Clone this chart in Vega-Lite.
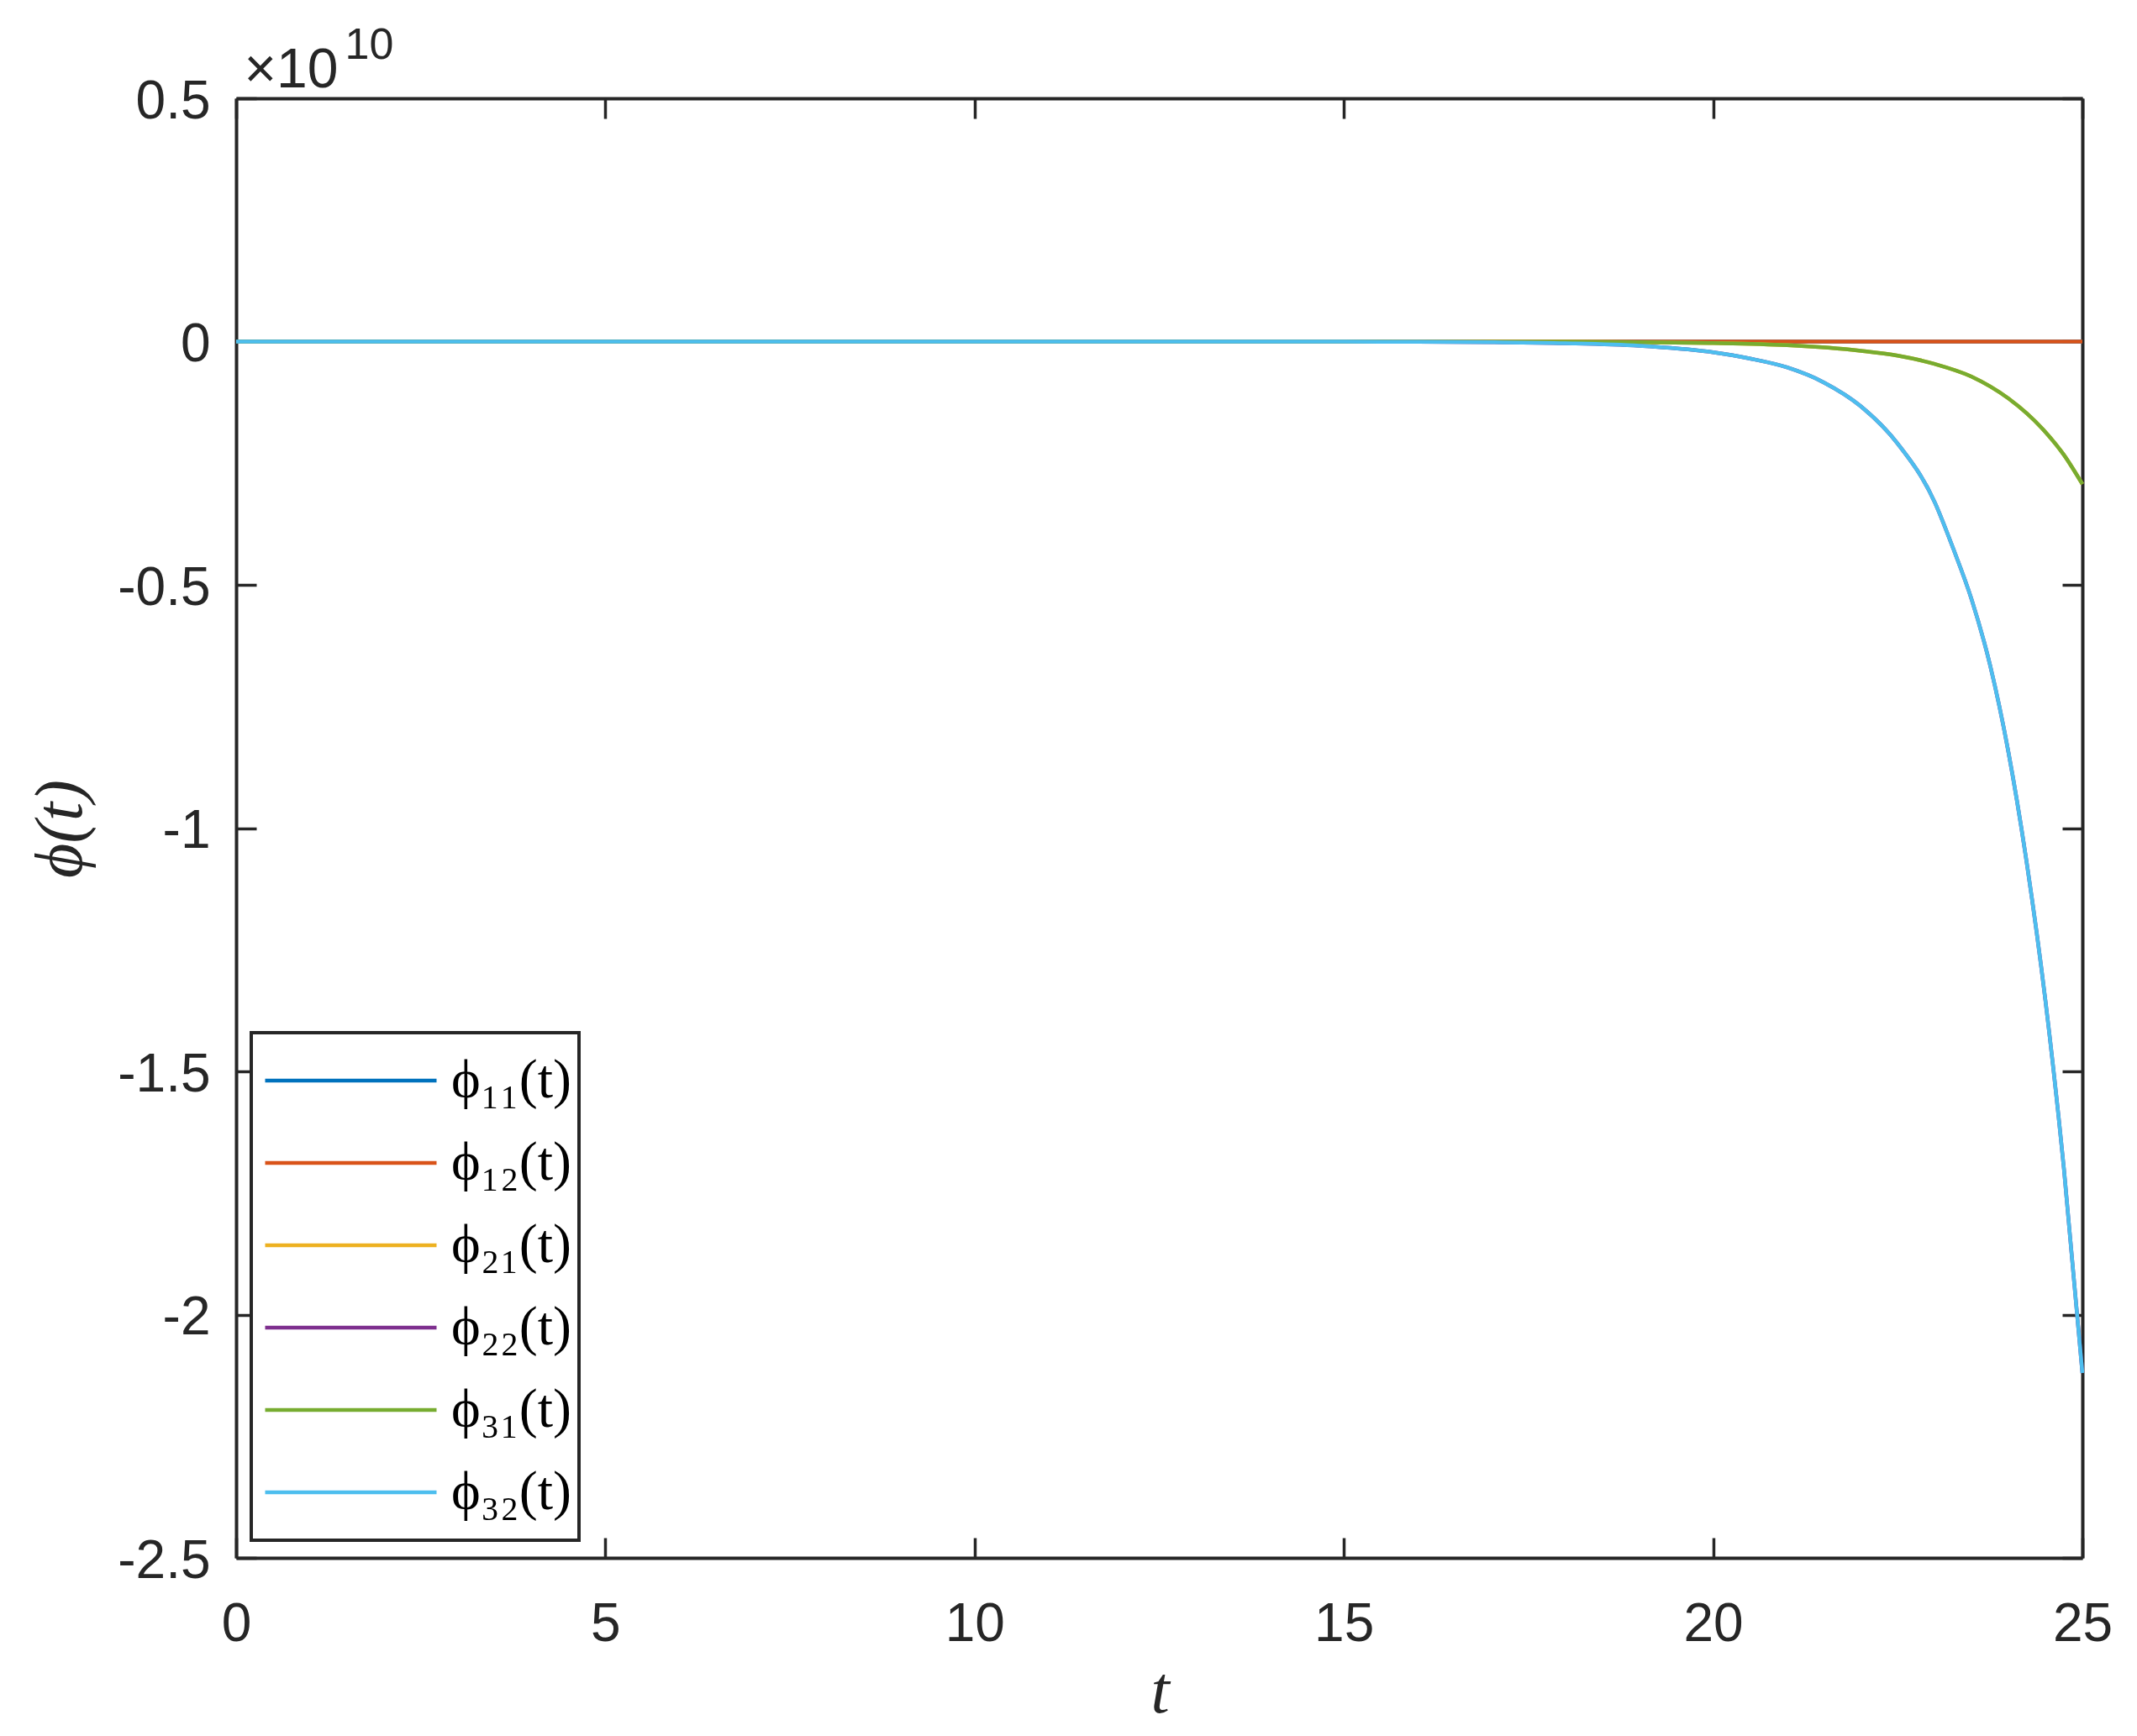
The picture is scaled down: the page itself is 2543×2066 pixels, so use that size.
{
  "$schema": "https://vega.github.io/schema/vega-lite/v6.json",
  "width": 2197,
  "height": 1737,
  "autosize": {"type": "none"},
  "padding": {"left": 281, "top": 117, "right": 65, "bottom": 212},
  "background": "white",
  "data": {
    "values": [
      {"series": "ϕ₁₁(t)", "t": 0, "phi": 0},
      {"series": "ϕ₁₁(t)", "t": 5, "phi": 0},
      {"series": "ϕ₁₁(t)", "t": 10, "phi": 0},
      {"series": "ϕ₁₁(t)", "t": 15, "phi": 0},
      {"series": "ϕ₁₁(t)", "t": 20, "phi": 0},
      {"series": "ϕ₁₁(t)", "t": 25, "phi": 0},
      {"series": "ϕ₁₂(t)", "t": 0, "phi": 0},
      {"series": "ϕ₁₂(t)", "t": 5, "phi": 0},
      {"series": "ϕ₁₂(t)", "t": 10, "phi": 0},
      {"series": "ϕ₁₂(t)", "t": 15, "phi": 0},
      {"series": "ϕ₁₂(t)", "t": 20, "phi": 0},
      {"series": "ϕ₁₂(t)", "t": 25, "phi": 0},
      {"series": "ϕ₂₁(t)", "t": 0, "phi": 0},
      {"series": "ϕ₂₁(t)", "t": 5, "phi": 0},
      {"series": "ϕ₂₁(t)", "t": 10, "phi": 0},
      {"series": "ϕ₂₁(t)", "t": 15, "phi": 0},
      {"series": "ϕ₂₁(t)", "t": 18, "phi": -5e6},
      {"series": "ϕ₂₁(t)", "t": 19, "phi": -1.2e7},
      {"series": "ϕ₂₁(t)", "t": 20, "phi": -3e7},
      {"series": "ϕ₂₁(t)", "t": 21, "phi": -7.5e7},
      {"series": "ϕ₂₁(t)", "t": 22, "phi": -1.9e8},
      {"series": "ϕ₂₁(t)", "t": 22.5, "phi": -2.9e8},
      {"series": "ϕ₂₁(t)", "t": 23, "phi": -4.6e8},
      {"series": "ϕ₂₁(t)", "t": 23.5, "phi": -7.2e8},
      {"series": "ϕ₂₁(t)", "t": 24, "phi": -1.17e9},
      {"series": "ϕ₂₁(t)", "t": 24.25, "phi": -1.48e9},
      {"series": "ϕ₂₁(t)", "t": 24.5, "phi": -1.86e9},
      {"series": "ϕ₂₁(t)", "t": 24.75, "phi": -2.33e9},
      {"series": "ϕ₂₁(t)", "t": 25, "phi": -2.93e9},
      {"series": "ϕ₂₂(t)", "t": 0, "phi": 0},
      {"series": "ϕ₂₂(t)", "t": 5, "phi": 0},
      {"series": "ϕ₂₂(t)", "t": 10, "phi": 0},
      {"series": "ϕ₂₂(t)", "t": 15, "phi": -2e6},
      {"series": "ϕ₂₂(t)", "t": 16, "phi": -5e6},
      {"series": "ϕ₂₂(t)", "t": 17, "phi": -1.4e7},
      {"series": "ϕ₂₂(t)", "t": 18, "phi": -3.4e7},
      {"series": "ϕ₂₂(t)", "t": 19, "phi": -8.5e7},
      {"series": "ϕ₂₂(t)", "t": 20, "phi": -2.2e8},
      {"series": "ϕ₂₂(t)", "t": 20.5, "phi": -3.5e8},
      {"series": "ϕ₂₂(t)", "t": 21, "phi": -5.3e8},
      {"series": "ϕ₂₂(t)", "t": 21.5, "phi": -8.4e8},
      {"series": "ϕ₂₂(t)", "t": 22, "phi": -1.33e9},
      {"series": "ϕ₂₂(t)", "t": 22.5, "phi": -2.1e9},
      {"series": "ϕ₂₂(t)", "t": 23, "phi": -3.3e9},
      {"series": "ϕ₂₂(t)", "t": 23.25, "phi": -4.25e9},
      {"series": "ϕ₂₂(t)", "t": 23.5, "phi": -5.3e9},
      {"series": "ϕ₂₂(t)", "t": 23.75, "phi": -6.65e9},
      {"series": "ϕ₂₂(t)", "t": 24, "phi": -8.45e9},
      {"series": "ϕ₂₂(t)", "t": 24.25, "phi": -1.075e10},
      {"series": "ϕ₂₂(t)", "t": 24.5, "phi": -1.355e10},
      {"series": "ϕ₂₂(t)", "t": 24.75, "phi": -1.7e10},
      {"series": "ϕ₂₂(t)", "t": 25, "phi": -2.12e10},
      {"series": "ϕ₃₁(t)", "t": 0, "phi": 0},
      {"series": "ϕ₃₁(t)", "t": 5, "phi": 0},
      {"series": "ϕ₃₁(t)", "t": 10, "phi": 0},
      {"series": "ϕ₃₁(t)", "t": 15, "phi": 0},
      {"series": "ϕ₃₁(t)", "t": 18, "phi": -5e6},
      {"series": "ϕ₃₁(t)", "t": 19, "phi": -1.2e7},
      {"series": "ϕ₃₁(t)", "t": 20, "phi": -3e7},
      {"series": "ϕ₃₁(t)", "t": 21, "phi": -7.5e7},
      {"series": "ϕ₃₁(t)", "t": 22, "phi": -1.9e8},
      {"series": "ϕ₃₁(t)", "t": 22.5, "phi": -2.9e8},
      {"series": "ϕ₃₁(t)", "t": 23, "phi": -4.6e8},
      {"series": "ϕ₃₁(t)", "t": 23.5, "phi": -7.2e8},
      {"series": "ϕ₃₁(t)", "t": 24, "phi": -1.17e9},
      {"series": "ϕ₃₁(t)", "t": 24.25, "phi": -1.48e9},
      {"series": "ϕ₃₁(t)", "t": 24.5, "phi": -1.86e9},
      {"series": "ϕ₃₁(t)", "t": 24.75, "phi": -2.33e9},
      {"series": "ϕ₃₁(t)", "t": 25, "phi": -2.93e9},
      {"series": "ϕ₃₂(t)", "t": 0, "phi": 0},
      {"series": "ϕ₃₂(t)", "t": 5, "phi": 0},
      {"series": "ϕ₃₂(t)", "t": 10, "phi": 0},
      {"series": "ϕ₃₂(t)", "t": 15, "phi": -2e6},
      {"series": "ϕ₃₂(t)", "t": 16, "phi": -5e6},
      {"series": "ϕ₃₂(t)", "t": 17, "phi": -1.4e7},
      {"series": "ϕ₃₂(t)", "t": 18, "phi": -3.4e7},
      {"series": "ϕ₃₂(t)", "t": 19, "phi": -8.5e7},
      {"series": "ϕ₃₂(t)", "t": 20, "phi": -2.2e8},
      {"series": "ϕ₃₂(t)", "t": 20.5, "phi": -3.5e8},
      {"series": "ϕ₃₂(t)", "t": 21, "phi": -5.3e8},
      {"series": "ϕ₃₂(t)", "t": 21.5, "phi": -8.4e8},
      {"series": "ϕ₃₂(t)", "t": 22, "phi": -1.33e9},
      {"series": "ϕ₃₂(t)", "t": 22.5, "phi": -2.1e9},
      {"series": "ϕ₃₂(t)", "t": 23, "phi": -3.3e9},
      {"series": "ϕ₃₂(t)", "t": 23.25, "phi": -4.25e9},
      {"series": "ϕ₃₂(t)", "t": 23.5, "phi": -5.3e9},
      {"series": "ϕ₃₂(t)", "t": 23.75, "phi": -6.65e9},
      {"series": "ϕ₃₂(t)", "t": 24, "phi": -8.45e9},
      {"series": "ϕ₃₂(t)", "t": 24.25, "phi": -1.075e10},
      {"series": "ϕ₃₂(t)", "t": 24.5, "phi": -1.355e10},
      {"series": "ϕ₃₂(t)", "t": 24.75, "phi": -1.7e10},
      {"series": "ϕ₃₂(t)", "t": 25, "phi": -2.12e10}
    ]
  },
  "layer": [
    {
      "mark": {"type": "line", "strokeWidth": 4.5, "interpolate": "monotone"},
      "encoding": {
        "x": {
          "field": "t",
          "type": "quantitative",
          "scale": {"domain": [0, 25], "nice": false},
          "axis": {
            "orient": "bottom",
            "values": [0, 5, 10, 15, 20, 25],
            "labelPadding": 71,
            "labelFlush": false,
            "title": "t",
            "titleFont": "Liberation Serif",
            "titleFontStyle": "italic",
            "titleFontWeight": "normal",
            "titleFontSize": 80,
            "titleX": 1099,
            "titleY": 183,
            "titleAlign": "center",
            "titleBaseline": "alphabetic"
          }
        },
        "y": {
          "field": "phi",
          "type": "quantitative",
          "scale": {"domain": [-25000000000, 5000000000], "nice": false, "zero": false},
          "axis": {
            "orient": "left",
            "values": [-25000000000, -20000000000, -15000000000, -10000000000, -5000000000, 0, 5000000000],
            "labelExpr": "'' + datum.value / 1e10",
            "labelPadding": 55,
            "labelOffset": 4,
            "labelBaseline": "middle",
            "title": "ϕ(t)",
            "titleFont": "Liberation Serif",
            "titleFontStyle": "italic",
            "titleFontWeight": "normal",
            "titleFontSize": 80,
            "titleAngle": -90,
            "titleX": -209,
            "titleY": 869,
            "titleAlign": "center",
            "titleBaseline": "middle"
          }
        },
        "color": {
          "field": "series",
          "type": "nominal",
          "scale": {
            "domain": ["ϕ₁₁(t)", "ϕ₁₂(t)", "ϕ₂₁(t)", "ϕ₂₂(t)", "ϕ₃₁(t)", "ϕ₃₂(t)"],
            "range": ["#0072BD", "#D95319", "#EDB120", "#7E2F8E", "#77AC30", "#4DBEEE"]
          },
          "legend": {
            "orient": "none",
            "legendX": 18,
            "legendY": 1112,
            "title": null,
            "symbolType": "stroke",
            "symbolSize": 41616,
            "symbolStrokeWidth": 4.5,
            "symbolOffset": 6,
            "labelOffset": 15,
            "labelFont": "Liberation Serif",
            "labelFontSize": 66,
            "labelColor": "black",
            "labelLimit": 0,
            "clipHeight": 98,
            "rowPadding": 0,
            "padding": 8
          }
        }
      }
    },
    {
      "mark": {"type": "point", "opacity": 0},
      "encoding": {
        "x": {
          "field": "t",
          "type": "quantitative",
          "axis": {
            "orient": "top",
            "values": [0, 5, 10, 15, 20, 25],
            "labels": false,
            "title": "×10",
            "titleFont": "Liberation Sans",
            "titleFontWeight": "normal",
            "titleFontSize": 66,
            "titleColor": "#262626",
            "titleX": 9,
            "titleY": -14,
            "titleAlign": "left",
            "titleBaseline": "alphabetic"
          }
        },
        "y": {
          "field": "phi",
          "type": "quantitative",
          "axis": {
            "orient": "right",
            "values": [-25000000000, -20000000000, -15000000000, -10000000000, -5000000000, 0, 5000000000],
            "labels": false,
            "title": "10",
            "titleFont": "Liberation Sans",
            "titleFontWeight": "normal",
            "titleFontSize": 52,
            "titleColor": "#262626",
            "titleAngle": 0,
            "titleX": -2068,
            "titleY": -48,
            "titleAlign": "left",
            "titleBaseline": "alphabetic"
          }
        }
      }
    }
  ],
  "resolve": {"axis": {"x": "independent", "y": "independent"}},
  "config": {
    "view": {"stroke": null},
    "axis": {
      "grid": false,
      "domainColor": "#262626",
      "domainWidth": 4,
      "tickColor": "#262626",
      "tickWidth": 3.5,
      "tickSize": -24,
      "labelFont": "Liberation Sans",
      "labelFontSize": 64,
      "labelColor": "#262626",
      "titleColor": "#262626"
    },
    "legend": {
      "strokeColor": "#262626",
      "strokeWidth": 4,
      "fillColor": "white"
    }
  }
}
